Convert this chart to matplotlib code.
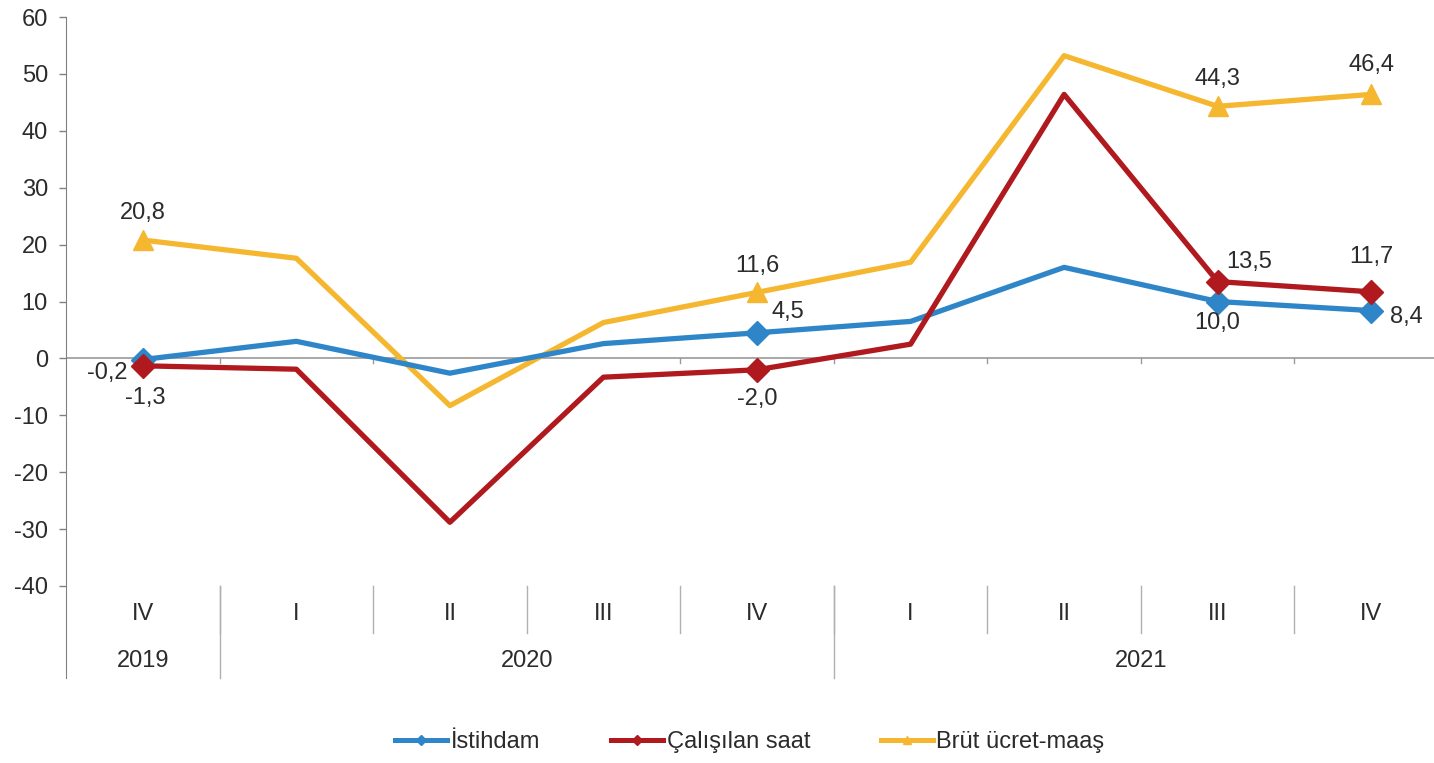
import matplotlib
matplotlib.use("Agg")
import matplotlib.pyplot as plt
from matplotlib.lines import Line2D

plt.rcParams['font.family'] = ['Liberation Sans', 'DejaVu Sans']
plt.rcParams['axes.unicode_minus'] = False

quarters = ["IV", "I", "II", "III", "IV", "I", "II", "III", "IV"]
years = ["2019", "2020", "2021"]
year_spans = [(0, 0), (1, 4), (5, 8)]

istihdam = [-0.2, 3.0, -2.6, 2.6, 4.5, 6.5, 16.0, 10.0, 8.4]
calisilan = [-1.3, -1.9, -28.8, -3.3, -2.0, 2.5, 46.4, 13.5, 11.7]
brut = [20.8, 17.6, -8.3, 6.3, 11.6, 16.9, 53.2, 44.3, 46.4]

series_names = ["İstihdam", "Çalışılan saat", "Brüt ücret-maaş"]
colors = ["#2E86C9", "#B0191E", "#F6B730"]
marked = [0, 4, 7, 8]

W, H = 1434, 763
fig = plt.figure(figsize=(W / 100, H / 100), dpi=100)
left_px, right_px, top_px, bot_px = 66, 1448, 17, 586
ax = fig.add_axes([left_px / W, 1 - bot_px / H, (right_px - left_px) / W, (bot_px - top_px) / H])

x = list(range(len(quarters)))
txt_color = "#2b2b2b"
lw = 3.8
fs = 17

ax.plot(x, istihdam, color=colors[0], lw=lw, marker="D", ms=12, markevery=marked, zorder=3)
ax.plot(x, calisilan, color=colors[1], lw=lw, marker="D", ms=12, markevery=marked, zorder=4)
ax.plot(x, brut, color=colors[2], lw=lw, marker="^", ms=15, markevery=marked, zorder=2)

ax.set_xlim(-0.5, 8.5)
ax.set_ylim(-40, 60)
ax.set_yticks(range(-40, 61, 10))
ax.tick_params(axis="y", labelsize=fs, colors="#808080", labelcolor=txt_color, length=5, width=1, pad=8)
ax.set_xticks([])
for s in ["top", "right", "bottom"]:
    ax.spines[s].set_visible(False)
ax.spines["left"].set_color("#808080")
ax.spines["left"].set_bounds(-56.2, 60)
ax.spines["left"].set_clip_on(False)

# zero line with boundary ticks
ax.axhline(0, color="#9a9a9a", lw=1.2, zorder=1)
for k in range(len(quarters)):
    ax.plot([k + 0.5, k + 0.5], [0, -0.8], color="#9a9a9a", lw=1, zorder=1)

# category labels (multi-level)
for k, q in enumerate(quarters):
    ax.text(k, -44.9, q, ha="center", va="center", fontsize=fs, color=txt_color, clip_on=False)
    if k < len(quarters) - 1:
        ax.plot([k + 0.5, k + 0.5], [-40, -48.2], color="#b0b0b0", lw=1, clip_on=False)
for (a, b), yr in zip(year_spans, years):
    ax.text((a + b) / 2, -53.2, yr, ha="center", va="center", fontsize=fs, color=txt_color, clip_on=False)
for bnd in [0.5, 4.5]:
    ax.plot([bnd, bnd], [-40, -56.2], color="#b0b0b0", lw=1, clip_on=False)

def fmt(v):
    return f"{v:.1f}".replace(".", ",")

labels = [
    (0, brut, 0, 27), (0, istihdam, -36, -13), (0, calisilan, 2, -32),
    (4, brut, 0, 26), (4, istihdam, 31, 21), (4, calisilan, 0, -29),
    (7, brut, 0, 27), (7, calisilan, 32, 20), (7, istihdam, 0, -22),
    (8, brut, 0, 29), (8, calisilan, 0, 35), (8, istihdam, 35, -6),
]
for k, ser, dx, dy in labels:
    ax.annotate(fmt(ser[k]), (k, ser[k]), xytext=(dx, dy), textcoords="offset pixels",
                ha="center", va="center", fontsize=fs, color=txt_color, zorder=6)

handles = [
    Line2D([], [], color=colors[0], lw=3.6, marker="D", ms=5),
    Line2D([], [], color=colors[1], lw=3.6, marker="D", ms=5),
    Line2D([], [], color=colors[2], lw=3.6, marker="^", ms=6),
]
fig.legend(handles, series_names, loc="center", bbox_to_anchor=(750 / W, 1 - 742 / H),
           ncol=3, frameon=False, fontsize=fs, handlelength=2.2, handletextpad=0.15,
           columnspacing=3.0, labelcolor=txt_color)

fig.savefig("out.png", dpi=100)
